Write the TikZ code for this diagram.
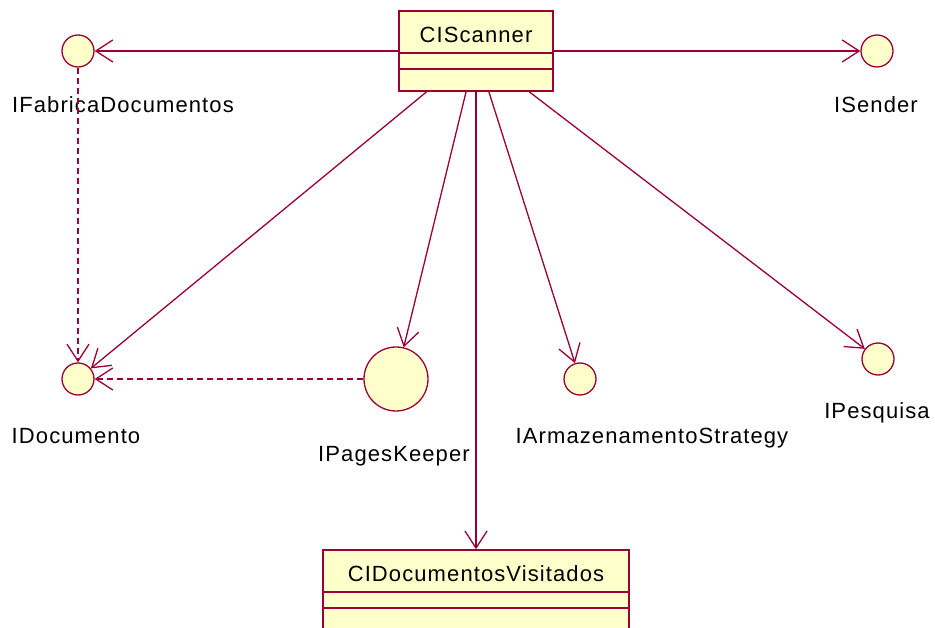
\documentclass[tikz,border=0pt]{standalone}
\usepackage{fontspec}
\setmainfont{Liberation Sans}[LetterSpace=5]
\usetikzlibrary{arrows.meta}
\definecolor{umlline}{HTML}{990033}
\definecolor{umlfill}{HTML}{FFFFCC}
\begin{document}
\begin{tikzpicture}[x=1pt,y=-1pt,
  every node/.style={font=\fontsize{22}{26}\selectfont},
  classbox/.style={draw=umlline, fill=umlfill, line width=1.5pt, rectangle, inner sep=0},
  sepline/.style={draw=umlline, line width=1.5pt},
  iface/.style={draw=umlline, fill=umlfill, line width=1.3pt, circle, inner sep=0, minimum size=32pt},
  lbl/.style={anchor=base, inner sep=0, text=black},
  assoc/.style={draw=umlline, line width=1.3pt, -{Straight Barb[length=17pt,width=22pt]}},
  dep/.style={assoc, dash pattern=on 6pt off 4pt},
]
\useasboundingbox (0,0) rectangle (935,628);
\clip (0,0) rectangle (935,628);

% classes
\node[classbox, minimum width=154pt, minimum height=80pt] (scanner) at (476,51) {};
\draw[sepline] (scanner.west |- 0,53) -- (scanner.east |- 0,53);
\draw[sepline] (scanner.west |- 0,69) -- (scanner.east |- 0,69);
\node[lbl] (scannertxt) at (476,43) {CIScanner};

\node[classbox, minimum width=306pt, minimum height=110pt] (visit) at (476,605) {};
\draw[sepline] (visit.west |- 0,592) -- (visit.east |- 0,592);
\draw[sepline] (visit.west |- 0,608) -- (visit.east |- 0,608);
\node[lbl] (visittxt) at (476,581) {CIDocumentosVisitados};

% interfaces
\node[iface] (ifab) at (78,51) {};
\node[iface] (isender) at (877,51) {};
\node[iface] (idoc) at (78,379) {};
\node[iface, minimum size=64pt] (ipages) at (396,379) {};
\node[iface] (iarm) at (580,379) {};
\node[iface] (ipesq) at (878,359) {};

% labels
\node[lbl] (ifablbl) at (123,113) {IFabricaDocumentos};
\node[lbl] (isenderlbl) at (876,113) {ISender};
\node[lbl] (idoclbl) at (76,443) {IDocumento};
\node[lbl] (ipageslbl) at (394,461) {IPagesKeeper};
\node[lbl] (iarmlbl) at (652,443) {IArmazenamentoStrategy};
\node[lbl] (ipesqlbl) at (877,419) {IPesquisa};

% connectors
\draw[assoc] (scanner) -- (ifab);
\draw[assoc] (scanner) -- (isender);
\draw[assoc] (scanner) -- (idoc);
\draw[assoc] (scanner) -- (ipages);
\draw[assoc] (scanner) -- (visit);
\draw[assoc] (scanner) -- (iarm);
\draw[assoc] (scanner) -- (ipesq);
\draw[dep] (ifab) -- (idoc);
\draw[dep] (ipages) -- (idoc);
\end{tikzpicture}
\end{document}
